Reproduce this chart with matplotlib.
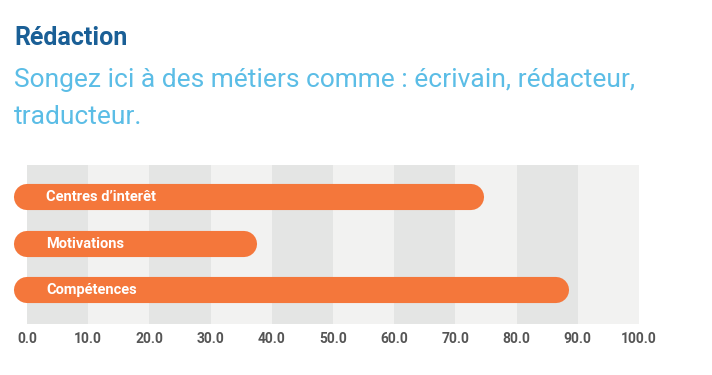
import matplotlib.pyplot as plt

# ======================
# Data
# ======================

categories = ["Centres d\u2019interêt", "Motivations", "Compétences"]
values = [72.5, 35.5, 86.5]
ticks = [0, 10, 20, 30, 40, 50, 60, 70, 80, 90, 100]
tick_labels = [f"{t:.1f}" for t in ticks]

title = "Rédaction"
subtitle_lines = [
    "Songez ici à des métiers comme : écrivain, rédacteur,",
    "traducteur."
]

# ======================
# Style
# ======================

orange = "#f4773b"
band_dark = "#e4e5e4"
band_light = "#f2f2f1"

plt.rcParams["font.family"] = ["Roboto", "DejaVu Sans"]

fig = plt.figure(figsize=(7.12, 3.75), dpi=100)
ax = fig.add_axes([27 / 712, 1 - 324 / 375, 612 / 712, 159 / 375])

# background bands
for i in range(10):
    ax.axvspan(
        ticks[i],
        ticks[i + 1],
        color=band_dark if i % 2 == 0 else band_light,
        lw=0,
        zorder=0
    )

# rounded bars
for i, (cat, val) in enumerate(zip(categories, values)):
    ax.plot(
        [0, val],
        [i, i],
        color=orange,
        lw=18.8,
        solid_capstyle="round",
        clip_on=False,
        zorder=2
    )
    ax.text(
        3.1,
        i,
        cat,
        color="white",
        fontsize=10.5,
        fontweight="bold",
        va="center",
        ha="left",
        zorder=3
    )

ax.set_xlim(0, 100)
ax.set_ylim(2.73, -0.69)
ax.set_xticks(ticks)
ax.set_xticklabels(tick_labels, fontsize=10, fontweight="bold", color="#555555")
ax.tick_params(axis="x", length=0, pad=6)
ax.set_yticks([])
for s in ax.spines.values():
    s.set_visible(False)

# titles
fig.text(14 / 712, 1 - 38 / 375, title, fontsize=18, fontweight="bold",
         color="#1a5f96", va="center", ha="left")
for k, line in enumerate(subtitle_lines):
    fig.text(14 / 712, 1 - (80 + 37 * k) / 375, line, fontsize=19,
             color="#5bbde6", va="center", ha="left")

fig.savefig("out.png", dpi=100)
